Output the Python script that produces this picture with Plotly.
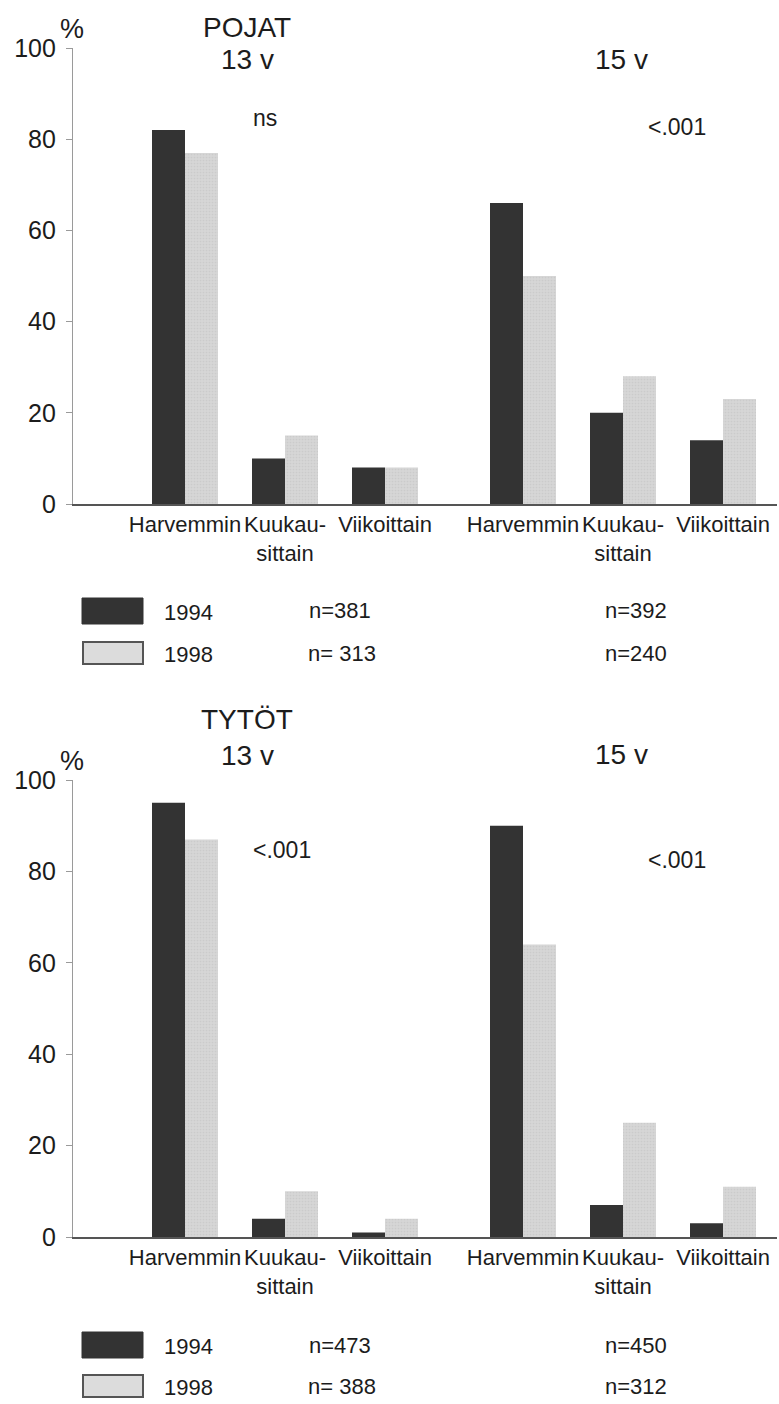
import plotly.graph_objects as go

# Frequency categories and their two-line tick labels
categories = ["Harvemmin", "Kuukausittain", "Viikoittain"]
tick_labels = ["Harvemmin", "Kuukau-<br>sittain", "Viikoittain"]
years = ["1994", "1998"]

# POJAT (boys), percent by frequency
pojat_13_1994 = [82, 10, 8]
pojat_13_1998 = [77, 15, 8]
pojat_15_1994 = [66, 20, 14]
pojat_15_1998 = [50, 28, 23]

# TYTÖT (girls), percent by frequency
tytot_13_1994 = [95, 4, 1]
tytot_13_1998 = [87, 10, 4]
tytot_15_1994 = [90, 7, 3]
tytot_15_1998 = [64, 25, 11]

# Sample sizes (13 v, 15 v) per year
pojat_n_1994 = ["n=381", "n=392"]
pojat_n_1998 = ["n= 313", "n=240"]
tytot_n_1994 = ["n=473", "n=450"]
tytot_n_1998 = ["n= 388", "n=312"]

# Significance labels (13 v, 15 v)
pojat_p = ["ns", "<.001"]
tytot_p = ["<.001", "<.001"]

W, H = 779, 1404
FONT = "Liberation Sans, Arial, Helvetica, sans-serif"
TXT = "#1c1c1c"
DARK = "#333333"
LIGHT = "#d6d6d6"


def px(x):
    return x / W


def py(y):
    return 1 - y / H


fig = go.Figure()

panels = [
    # (x-left, x-right, y, 1994 left, 1998 left, 1994 right, 1998 right)
    ("x", "x2", "y", pojat_13_1994, pojat_13_1998, pojat_15_1994, pojat_15_1998),
    ("x3", "x4", "y2", tytot_13_1994, tytot_13_1998, tytot_15_1994, tytot_15_1998),
]

for xl, xr, yy, l94, l98, r94, r98 in panels:
    for xa, v94, v98 in ((xl, l94, l98), (xr, r94, r98)):
        fig.add_trace(go.Bar(
            x=categories, y=v94, name=years[0], offsetgroup=years[0],
            xaxis=xa, yaxis=yy, showlegend=False,
            marker=dict(color=DARK, line=dict(width=0)),
        ))
        fig.add_trace(go.Bar(
            x=categories, y=v98, name=years[1], offsetgroup=years[1],
            xaxis=xa, yaxis=yy, showlegend=False,
            marker=dict(color=LIGHT, line=dict(width=0),
                        pattern=dict(shape=".", fgcolor="#c0c0c0",
                                     bgcolor=LIGHT, size=3, solidity=0.25)),
        ))

xcommon = dict(
    type="category", showline=True, linecolor="#555555", linewidth=1.5,
    showgrid=False, zeroline=False, ticks="", automargin=False,
    tickvals=categories, ticktext=tick_labels,
    tickfont=dict(family=FONT, size=22, color=TXT),
    fixedrange=True,
)
ycommon = dict(
    range=[0, 100], tickvals=[0, 20, 40, 60, 80, 100],
    showline=True, linecolor="#9a9a9a", linewidth=1.2,
    ticks="outside", ticklen=6, tickcolor="#9a9a9a", tickwidth=1,
    showgrid=False, zeroline=False, ticklabelstandoff=5, automargin=False,
    tickfont=dict(family=FONT, size=25, color=TXT),
)

L0, MID, R0 = 73, 454, 777
left_range = [-1.12, 2.69]
right_range = [-0.69, 2.54]

fig.update_layout(
    width=W, height=H,
    margin=dict(l=0, r=0, t=0, b=0, pad=0, autoexpand=False),
    paper_bgcolor="white", plot_bgcolor="white",
    barmode="group", bargap=0.34, bargroupgap=0,
    font=dict(family=FONT, color=TXT),
    showlegend=False,
    xaxis=dict(xcommon, domain=[px(L0), px(MID)], range=left_range, anchor="y"),
    xaxis2=dict(xcommon, domain=[px(MID), px(R0)], range=right_range, anchor="y"),
    xaxis3=dict(xcommon, domain=[px(L0), px(MID)], range=left_range, anchor="y2"),
    xaxis4=dict(xcommon, domain=[px(MID), px(R0)], range=right_range, anchor="y2"),
    yaxis=dict(ycommon, domain=[py(504), py(48)], anchor="x"),
    yaxis2=dict(ycommon, domain=[py(1237), py(780)], anchor="x3"),
)


def note(text, x, y, size=22):
    fig.add_annotation(
        text=text, x=px(x), y=py(y), xref="paper", yref="paper",
        showarrow=False, xanchor="center", yanchor="middle",
        font=dict(family=FONT, size=size, color=TXT),
    )


# Panel titles and age headers
note("POJAT", 247, 27, 28)
note("13 v", 247, 60, 28)
note("15 v", 621, 60, 28)
note("TYTÖT", 247, 720, 28)
note("13 v", 247, 755, 28)
note("15 v", 621, 754, 28)

# Axis unit
note("%", 72, 29, 27)
note("%", 72, 761, 27)

# Significance
note(pojat_p[0], 265, 118, 23)
note(pojat_p[1], 677, 127, 23)
note(tytot_p[0], 282, 850, 23)
note(tytot_p[1], 677, 860, 23)


# Legends with sample sizes
def legend_block(y94, y98, n94, n98):
    fig.add_shape(type="rect", xref="paper", yref="paper",
                  x0=px(82), x1=px(143), y0=py(y94 + 13), y1=py(y94 - 13),
                  fillcolor=DARK, line=dict(color=DARK, width=1))
    fig.add_shape(type="rect", xref="paper", yref="paper",
                  x0=px(83), x1=px(143), y0=py(y98 + 11), y1=py(y98 - 11),
                  fillcolor="#dcdcdc", line=dict(color="#555555", width=2))
    note(years[0], 188, y94 + 1, 22)
    note(years[1], 188, y98 + 1, 22)
    note(n94[0], 340, y94, 22)
    note(n98[0], 342, y98, 22)
    note(n94[1], 636, y94, 22)
    note(n98[1], 636, y98, 22)


legend_block(611, 653, pojat_n_1994, pojat_n_1998)
legend_block(1345, 1386, tytot_n_1994, tytot_n_1998)

fig.write_html("out.html")
